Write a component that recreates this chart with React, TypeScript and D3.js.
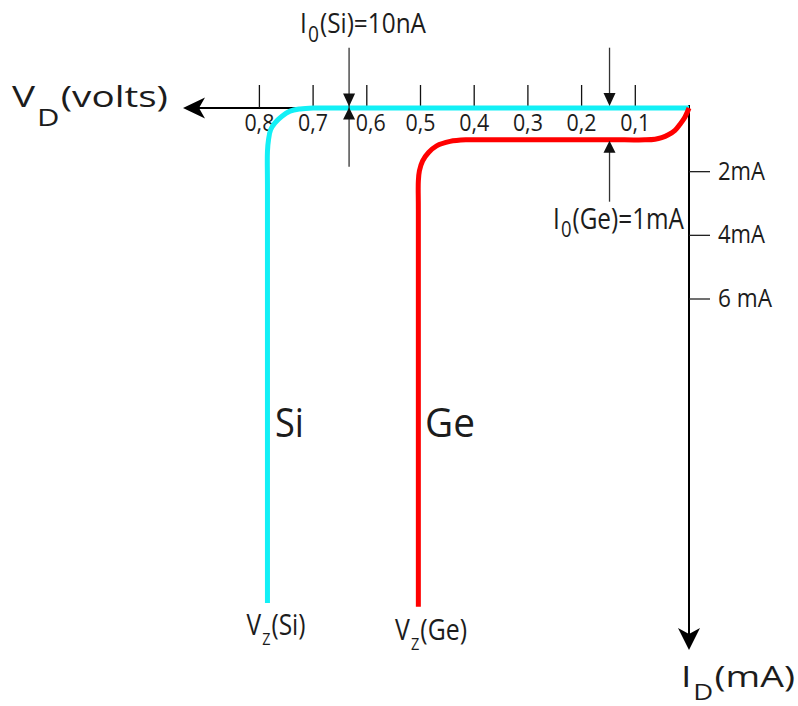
import React from "react";
import * as d3 from "d3";

// Diode forward characteristic (drawn in the third quadrant style: V to the left, I downward)
const VOLT_TICKS = [0.1, 0.2, 0.3, 0.4, 0.5, 0.6, 0.7, 0.8];
const VOLT_LABELS = ["0,1", "0,2", "0,3", "0,4", "0,5", "0,6", "0,7", "0,8"];
const CURRENT_TICKS = [2, 4, 6];
const CURRENT_LABELS = ["2mA", "4mA", "6 mA"];

// [volts, mA]
const SI_CURVE: [number, number][] = [
  [0, 0], [0.35, 0], [0.68, 0], [0.7, 0], [0.724, 0.03], [0.743, 0.1],
  [0.758, 0.26], [0.771, 0.47], [0.779, 0.68], [0.783, 0.99], [0.785, 1.36],
  [0.785, 2.5], [0.785, 15.55],
];
const GE_CURVE: [number, number][] = [
  [0, 0], [0.0074, 0.28], [0.0168, 0.51], [0.0261, 0.7], [0.0385, 0.84],
  [0.0508, 0.93], [0.0633, 0.98], [0.082, 1], [0.12, 1], [0.39, 1], [0.414, 1],
  [0.445, 1.05], [0.47, 1.19], [0.485, 1.4], [0.496, 1.66], [0.502, 1.97],
  [0.504, 2.29], [0.504, 3.2], [0.504, 15.67],
];

const I0_SI_V = 0.633; // where the I0(Si) marker sits on the voltage axis
const I0_GE_V = 0.148;
const I0_GE = 1; // mA

const W = 798;
const H = 706;
const FONT = "'Open Sans', 'Noto Sans', sans-serif";
const INK = "#1c1c1c";

const x = d3.scaleLinear().domain([0, 0.8]).range([689, 259.4]);
const y = d3.scaleLinear().domain([0, 6]).range([108, 299]);

const line = d3
  .line<[number, number]>()
  .x((d) => x(d[0]))
  .y((d) => y(d[1]))
  .curve(d3.curveCatmullRom.alpha(0.5));

type LabelProps = {
  x: number;
  y: number;
  w?: number;
  fs: number;
  anchor?: "start" | "middle" | "end";
  children: React.ReactNode;
};

function Label({ x, y, w, fs, anchor = "start", children }: LabelProps) {
  return (
    <text
      x={x}
      y={y}
      fontSize={fs}
      fontFamily={FONT}
      fill={INK}
      textAnchor={anchor}
      {...(w ? { textLength: w, lengthAdjust: "spacingAndGlyphs" } : {})}
    >
      {children}
    </text>
  );
}

// main text + lowered subscript + trailing text, all in one <text>
function SubLabel({
  x, y, w, fs, subFs, drop, main, sub, rest,
}: {
  x: number; y: number; w: number; fs: number; subFs: number; drop: number;
  main: string; sub: string; rest: string;
}) {
  return (
    <Label x={x} y={y} w={w} fs={fs}>
      <tspan>{main}</tspan>
      <tspan dx={1.5} dy={drop} fontSize={subFs}>{sub}</tspan>
      <tspan dx={1} dy={-drop}>{rest}</tspan>
    </Label>
  );
}

function Tri({ tx, ty, dir, len = 13, half = 6 }: { tx: number; ty: number; dir: 1 | -1; len?: number; half?: number }) {
  // dir 1: points down, dir -1: points up
  const by = ty - dir * len;
  return <path d={`M${tx},${ty}L${tx - half},${by}L${tx + half},${by}Z`} fill="#111" />;
}

export default function App() {
  const x0 = x(0);
  const y0 = y(0);
  const xSi = x(I0_SI_V);
  const xGe = x(I0_GE_V);
  const yGe = y(I0_GE) + 1;
  const xTip = 183;
  const yTip = 650;

  return (
    <svg
      width={W}
      height={H}
      viewBox={`0 0 ${W} ${H}`}
      style={{ position: "absolute", left: 0, top: 0, background: "#fff" }}
    >
      <rect width={W} height={H} fill="#fff" />

      {/* voltage axis */}
      <line x1={x0} y1={y0} x2={xTip + 12} y2={y0} stroke="#000" strokeWidth={2} />
      <path
        d={`M${xTip},${y0}L${xTip + 22},${y0 - 10.5}L${xTip + 16},${y0}L${xTip + 22},${y0 + 10.5}Z`}
        fill="#000"
      />
      {VOLT_TICKS.map((v, i) => (
        <g key={v}>
          <line x1={x(v)} x2={x(v)} y1={85} y2={y0} stroke="#111" strokeWidth={1.3} />
          <Label x={x(v) + (v === 0.6 ? 4 : 0)} y={131} fs={23} w={30} anchor="middle">
            {VOLT_LABELS[i]}
          </Label>
        </g>
      ))}

      {/* current axis */}
      <line x1={x0} y1={y0 - 3} x2={x0} y2={yTip - 12} stroke="#000" strokeWidth={2} />
      <path
        d={`M${x0},${yTip}L${x0 - 11},${yTip - 22}L${x0},${yTip - 16}L${x0 + 11},${yTip - 22}Z`}
        fill="#000"
      />
      {CURRENT_TICKS.map((c, i) => (
        <g key={c}>
          <line x1={x0} x2={x0 + 21} y1={y(c)} y2={y(c)} stroke="#222" strokeWidth={1.3} />
          <Label x={718} y={y(c) + 8} fs={25} w={i === 2 ? 54 : 47}>
            {CURRENT_LABELS[i]}
          </Label>
        </g>
      ))}

      {/* characteristics */}
      <path d={line(SI_CURVE) ?? ""} fill="none" stroke="#12F0F6" strokeWidth={5} />
      <path d={line(GE_CURVE) ?? ""} fill="none" stroke="#FF0000" strokeWidth={5} />

      {/* I0(Si) marker */}
      <line x1={xSi} x2={xSi} y1={47.7} y2={166.7} stroke="#333" strokeWidth={1.3} />
      <Tri tx={xSi} ty={y0 - 1.5} dir={1} />
      <Tri tx={xSi} ty={y0 - 0.5} dir={-1} len={12} />

      {/* I0(Ge) marker */}
      <line x1={xGe} x2={xGe} y1={47.7} y2={y0 - 12} stroke="#333" strokeWidth={1.3} />
      <Tri tx={xGe} ty={y0 - 2} dir={1} />
      <line x1={xGe} x2={xGe} y1={yGe + 10} y2={201.7} stroke="#333" strokeWidth={1.3} />
      <Tri tx={xGe} ty={yGe} dir={-1} len={12} />

      {/* axis titles */}
      <SubLabel x={12} y={106.5} w={156} fs={30} subFs={24} drop={19} main="V" sub="D" rest="(volts)" />
      <SubLabel x={681} y={687} w={114} fs={30} subFs={22} drop={13} main="I" sub="D" rest="(mA)" />

      {/* saturation current notes */}
      <SubLabel x={300} y={33} w={126} fs={28} subFs={22} drop={9} main="I" sub="0" rest="(Si)=10nA" />
      <SubLabel x={553} y={229} w={131} fs={29} subFs={22} drop={8} main="I" sub="0" rest="(Ge)=1mA" />

      {/* curve names */}
      <Label x={275} y={437} fs={40} w={29}>Si</Label>
      <Label x={425} y={437} fs={40} w={50}>Ge</Label>

      {/* breakdown labels */}
      <SubLabel x={246.5} y={635} w={59} fs={29} subFs={17} drop={10} main="V" sub="Z" rest="(Si)" />
      <SubLabel x={395} y={640} w={72} fs={29} subFs={17} drop={10} main="V" sub="Z" rest="(Ge)" />
    </svg>
  );
}
